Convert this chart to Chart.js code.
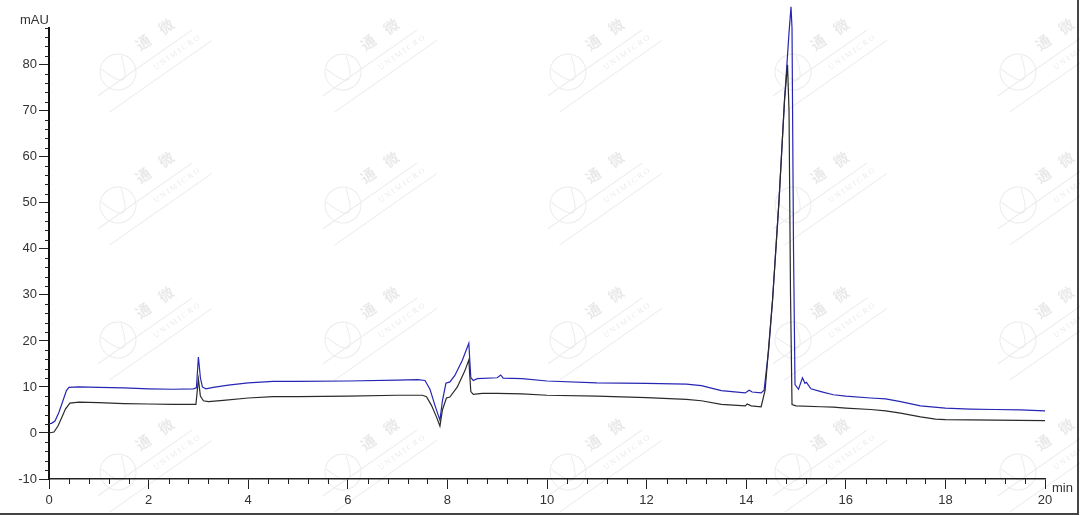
<!DOCTYPE html>
<html>
<head>
<meta charset="utf-8">
<script src="https://cdn.jsdelivr.net/npm/chart.js@4.4.1/dist/chart.umd.min.js"></script>
<style>
html,body{margin:0;padding:0;background:#fff;}
canvas{display:block;}
</style>
</head>
<body>
<canvas id="c" width="1080" height="515"></canvas>
<script>
// ---- data ----
const blueTime = [0,0.05,0.12,0.2,0.28,0.35,0.4,0.6,1.0,1.5,2.0,2.5,2.9,2.96,3.0,3.04,3.08,3.15,3.3,3.6,4.0,4.5,5.0,6.0,7.0,7.4,7.55,7.65,7.75,7.85,7.9,7.97,8.05,8.15,8.3,8.43,8.47,8.52,8.6,9.0,9.07,9.12,9.5,10.0,11.0,12.0,12.8,13.1,13.5,13.98,14.06,14.12,14.3,14.36,14.45,14.53,14.66,14.77,14.86,14.90,14.92,14.95,14.98,15.05,15.13,15.18,15.21,15.3,15.5,15.75,16.0,16.5,16.8,17.1,17.5,18.0,18.5,19.0,19.5,20.0];
const blueValues = [2.0,2.1,2.6,4.5,7.0,9.2,9.9,10.0,9.9,9.8,9.6,9.5,9.6,9.8,16.5,12.0,10.0,9.6,9.9,10.4,10.9,11.2,11.2,11.3,11.5,11.6,11.4,9.5,6.0,2.8,7.0,10.8,11.1,12.5,15.8,19.5,12.0,11.4,11.8,12.0,12.6,11.9,11.8,11.3,10.9,10.8,10.6,10.3,9.2,8.7,9.3,8.9,8.7,9.3,18,29,50.7,72.4,87,92.6,88,40,10.5,9.5,12.0,10.8,11.0,9.6,9.0,8.3,8.0,7.6,7.4,6.8,5.9,5.4,5.2,5.1,5.0,4.8];

const blackTime = [0,0.1,0.18,0.25,0.33,0.42,0.6,1.0,1.5,2.0,2.5,2.95,3.0,3.04,3.1,3.2,3.5,4.0,4.5,5.0,6.0,7.0,7.5,7.58,7.68,7.78,7.85,7.9,7.98,8.05,8.2,8.35,8.43,8.47,8.52,8.7,9.0,9.5,10.0,11.0,12.0,12.8,13.1,13.5,13.98,14.02,14.1,14.3,14.38,14.53,14.66,14.77,14.83,14.86,14.89,14.92,15.0,15.5,15.75,16.0,16.5,16.8,17.1,17.5,17.8,18.0,19.0,20.0];
const blackValues = [0,0.2,1.5,3.2,5.2,6.5,6.7,6.6,6.4,6.3,6.2,6.2,11.7,8.0,7.0,6.8,7.1,7.6,7.9,7.9,8.0,8.2,8.2,7.9,6.0,3.5,1.5,5.0,7.6,7.8,10.0,13.5,15.9,9.0,8.4,8.6,8.6,8.5,8.2,8.0,7.7,7.3,7.0,6.2,5.9,6.3,5.9,5.7,9.3,29,50.7,72.4,80,70,30,6.2,5.9,5.7,5.6,5.4,5.1,4.8,4.3,3.5,3.0,2.9,2.8,2.7];

const xMajorTicks = [0,2,4,6,8,10,12,14,16,18,20];
const yMajorTicks = [-10,0,10,20,30,40,50,60,70,80];
const xRange = [0,20];
const yRange = [-10,88];
const xUnit = 'min';
const yUnit = 'mAU';

// ---- build ----
const toPts = (t, v) => t.map((x, i) => ({x: x, y: v[i]}));

const FONT = '"Liberation Sans", Arial, sans-serif';
const TXT = '#333333';

const extras = {
  id: 'extras',
  afterDraw(chart) {
    const ctx = chart.ctx;
    const xs = chart.scales.x, ys = chart.scales.y;
    const ca = chart.chartArea;
    ctx.save();
    // minor ticks
    ctx.strokeStyle = '#222';
    ctx.lineWidth = 1;
    ctx.beginPath();
    for (let i = 0; i <= 50; i++) {
      if (i % 5 === 0) continue;
      const px = Math.round(xs.getPixelForValue(i * 0.4)) + 0.5;
      ctx.moveTo(px, ca.bottom);
      ctx.lineTo(px, ca.bottom + 5);
    }
    for (let v = -10; v <= 88; v += 2) {
      if (v % 10 === 0) continue;
      const py = Math.round(ys.getPixelForValue(v)) + 0.5;
      ctx.moveTo(ca.left, py);
      ctx.lineTo(ca.left - 4, py);
    }
    ctx.stroke();
    // unit labels
    ctx.fillStyle = TXT;
    ctx.font = '13px ' + FONT;
    ctx.textBaseline = 'middle';
    ctx.textAlign = 'left';
    ctx.fillText(yUnit, 20, 20);
    ctx.fillText(xUnit, 1052, 488);
    // frame (right + bottom)
    ctx.strokeStyle = '#444';
    ctx.lineWidth = 2;
    ctx.beginPath();
    ctx.moveTo(1078, 0); ctx.lineTo(1078, 514); ctx.lineTo(0, 514);
    ctx.stroke();
    // watermark
    const cols = [118, 343, 568, 793, 1018];
    const rows = [72, 205, 340, 472];
    ctx.strokeStyle = 'rgba(0,0,0,0.08)';
    ctx.fillStyle = 'rgba(0,0,0,0.09)';
    ctx.lineWidth = 1;
    rows.forEach(ry => cols.forEach(cx => {
      ctx.save();
      ctx.translate(cx, ry);
      ctx.rotate(-35 * Math.PI / 180);
      ctx.beginPath();
      ctx.arc(0, 0, 18, 0, Math.PI * 2);
      ctx.moveTo(-30, 8); ctx.lineTo(85, 8);
      ctx.moveTo(-30, 28); ctx.lineTo(95, 28);
      ctx.moveTo(-12, -12); ctx.quadraticCurveTo(-4, 14, 2, 8);
      ctx.moveTo(12, -12); ctx.quadraticCurveTo(4, 14, -2, 8);
      ctx.stroke();
      ctx.font = 'bold 15px "Noto Sans CJK SC", sans-serif';
      ctx.textAlign = 'left';
      ctx.textBaseline = 'alphabetic';
      ctx.fillText('通', 30, -4);
      ctx.fillText('微', 58, -4);
      ctx.font = '8px "Liberation Serif", serif';
      ctx.fillText('U N I M I C R O', 32, 20);
      ctx.restore();
    }));
    ctx.restore();
  }
};

new Chart(document.getElementById('c'), {
  type: 'line',
  data: {
    datasets: [
      {label: 'Black', data: toPts(blackTime, blackValues), borderColor: '#2a2a2a', borderWidth: 1.2, pointRadius: 0, tension: 0, clip: false},
      {label: 'Blue', data: toPts(blueTime, blueValues), borderColor: '#2626b4', borderWidth: 1.2, pointRadius: 0, tension: 0, clip: false}
    ]
  },
  options: {
    responsive: false,
    animation: false,
    events: [],
    layout: {padding: {top: 28, right: 35, left: 0, bottom: 0}},
    plugins: {legend: {display: false}, tooltip: {enabled: false}},
    scales: {
      x: {
        type: 'linear',
        min: xRange[0], max: xRange[1],
        afterBuildTicks: s => { s.ticks = xMajorTicks.map(v => ({value: v})); },
        afterFit: s => { s.height = 36; },
        grid: {drawOnChartArea: false, drawTicks: true, tickLength: 10, color: '#222', lineWidth: 1},
        border: {display: true, color: '#222', width: 1.5},
        ticks: {color: TXT, font: {family: FONT, size: 13}, padding: 4, maxRotation: 0, autoSkip: false}
      },
      y: {
        type: 'linear',
        min: yRange[0], max: yRange[1],
        afterBuildTicks: s => { s.ticks = yMajorTicks.map(v => ({value: v})); },
        afterFit: s => { s.width = 49; },
        grid: {drawOnChartArea: false, drawTicks: true, tickLength: 10, color: '#222', lineWidth: 1},
        border: {display: true, color: '#111', width: 2},
        ticks: {color: TXT, font: {family: FONT, size: 13}, padding: 2, autoSkip: false}
      }
    }
  },
  plugins: [extras]
});
</script>
</body>
</html>
